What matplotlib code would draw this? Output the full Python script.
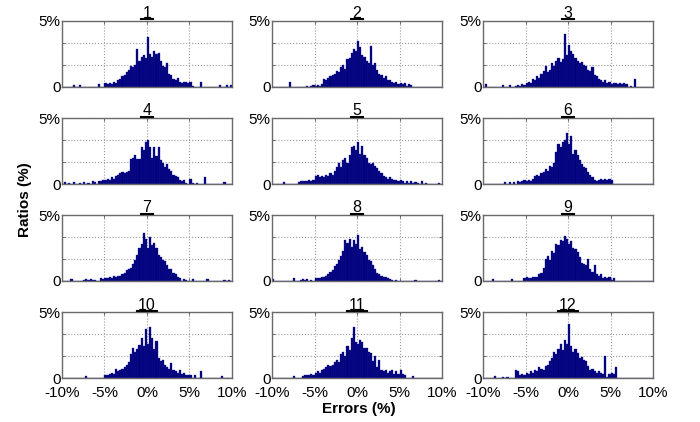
import numpy as np
import matplotlib
matplotlib.use("Agg")
import matplotlib.pyplot as plt
from matplotlib.lines import Line2D

plt.rcParams['font.family'] = ['Liberation Sans', 'DejaVu Sans']

# Histogram bins: -10% .. 10%, width 0.25%
bin_edges = np.linspace(-10, 10, 81)
panel_titles = ['1', '2', '3', '4', '5', '6', '7', '8', '9', '10', '11', '12']
x_tick_values = [-10, -5, 0, 5, 10]
x_tick_labels = ['-10%', '-5%', '0%', '5%', '10%']
y_tick_values = [0, 5 / 3, 10 / 3, 5]
y_tick_labels = ['0', '', '', '5%']

# Ratios (%) per bin
ratios_1 = [0, 0, 0, 0, 0, .15, 0, 0, .15, 0,
            0, 0, 0, 0, 0, 0, 0, .2, 0, 0,
            .3, .2, .3, .2, .4, .3, .5, .6, .8, .9,
            1.1, 1.3, 1.6, 1.5, 1.7, 2.9, 2.0, 2.3, 2.4, 2.2,
            3.8, 2.5, 2.3, 2.7, 2.5, 2.6, 2.0, 1.6, 1.5, 1.8,
            1.0, .9, .6, .5, .7, .4, .3, .4, .4, .3,
            .4, .1, 0, 0, 0, .4, 0, 0, 0, 0,
            0, 0, 0, 0, .15, 0, 0, .15, 0, .15]
ratios_2 = [0, 0, 0, 0, 0, 0, 0, 0, .35, 0,
            0, 0, 0, 0, 0, 0, .1, 0, .1, .15,
            .1, .15, .1, .2, .6, .5, .7, .8, .9, 1.0,
            1.2, 1.1, 1.5, 1.7, 1.4, 2.1, 2.2, 2.6, 2.9, 2.7,
            3.5, 3.0, 2.4, 2.3, 2.0, 1.8, 3.1, 1.7, 1.8, 1.3,
            1.0, .9, .7, .8, .5, .5, .4, .3, .4, .2,
            .3, .2, .3, .1, .2, .15, 0, 0, 0, 0,
            0, 0, 0, 0, 0, 0, 0, 0, 0, 0]
ratios_3 = [0, .2, 0, 0, 0, 0, 0, 0, 0, .15,
            0, 0, .15, 0, 0, .1, .15, .1, .2, .15,
            .3, .4, .3, .6, .5, .8, .7, 1.0, 1.2, 1.6,
            1.1, 1.3, 1.8, 1.6, 2.0, 2.2, 1.9, 2.1, 4.0, 2.4,
            3.2, 2.7, 2.5, 2.2, 2.0, 1.8, 1.9, 1.7, 1.6, 1.3,
            1.2, 1.5, .9, .8, .6, .5, .4, .5, .3, .4,
            .2, .3, .3, .2, .3, .2, .3, .2, 0, .1,
            0, .6, 0, 0, 0, 0, 0, 0, 0, 0]
ratios_4 = [0, .15, 0, .1, 0, .15, 0, 0, .1, 0,
            .15, 0, .1, 0, .2, .15, 0, .2, .25, .3,
            .3, .4, .3, .5, .4, .6, .7, .8, .9, .8,
            .9, 1.0, 1.9, 2.0, 2.2, 1.9, 1.9, 2.8, 2.6, 3.2,
            3.3, 2.8, 2.0, 2.8, 2.1, 2.8, 1.8, 1.6, 1.3, 1.5,
            1.1, 1.0, .7, .6, .5, .3, .2, .3, .1, 0,
            .4, .1, 0, .1, 0, 0, 0, .5, 0, 0,
            0, 0, 0, 0, 0, 0, .15, 0, 0, 0]
ratios_5 = [0, 0, 0, 0, 0, .15, 0, 0, 0, 0,
            0, 0, .15, .2, .25, .2, .25, .3, .2, .3,
            .6, .7, .5, .6, .5, .7, .6, .8, .7, 1.0,
            1.3, 1.6, 1.3, 1.8, 2.0, 1.6, 2.2, 2.8, 2.9, 2.6,
            3.2, 2.3, 2.9, 2.2, 2.0, 1.6, 1.5, 1.6, 1.4, 1.2,
            1.0, .8, .6, .5, .4, .5, .4, .3, .3, .2,
            .3, .2, .1, .2, .1, .2, .1, .15, .1, 0,
            .2, 0, .1, 0, 0, 0, 0, 0, .1, 0]
ratios_6 = [0, 0, 0, 0, 0, 0, 0, 0, 0, 0,
            .15, 0, .15, 0, .15, 0, .2, .15, .25, .3,
            .2, .3, .25, .4, .6, .7, .6, .8, .9, 1.1,
            1.0, 1.4, 1.3, 1.6, 2.4, 3.0, 2.8, 3.2, 3.3, 3.9,
            3.0, 3.6, 2.3, 2.6, 2.2, 1.8, 1.5, 1.3, 1.2, .9,
            .7, .5, .3, .2, .3, .4, .3, .4, .3, .4,
            .3, 0, 0, 0, 0, 0, 0, 0, 0, 0,
            0, 0, 0, 0, 0, 0, 0, 0, 0, 0]
ratios_7 = [0, 0, 0, 0, .15, 0, 0, 0, 0, 0,
            .1, .15, .1, .15, .1, .1, 0, 0, .2, .15,
            .25, .2, .3, .25, .35, .3, .35, .4, .5, .6,
            .8, .9, 1.0, 1.3, 1.6, 2.0, 2.5, 2.8, 3.6, 3.2,
            2.5, 3.3, 2.7, 2.9, 2.5, 2.0, 1.8, 1.6, 1.5, 1.2,
            .9, .9, .6, .5, .3, .2, 0, .15, .1, 0,
            0, .15, 0, 0, 0, 0, 0, 0, .15, 0,
            0, 0, 0, 0, 0, 0, .1, 0, .1, 0]
ratios_8 = [.15, 0, 0, 0, 0, 0, 0, 0, 0, 0,
            .2, 0, 0, .1, .15, .1, .15, 0, .1, 0,
            .2, .25, .2, .3, .3, .4, .5, .7, .8, 1.1,
            1.3, 1.6, 1.9, 2.3, 3.1, 2.9, 3.2, 2.6, 3.1, 2.8,
            3.5, 2.4, 2.6, 2.2, 2.0, 1.6, 1.5, 1.2, .9, .6,
            .5, .4, .3, .3, .2, .15, .1, 0, .1, 0,
            0, 0, 0, 0, 0, 0, 0, .1, 0, 0,
            0, 0, 0, 0, 0, 0, 0, 0, .1, 0]
ratios_9 = [0, 0, 0, 0, .15, 0, 0, 0, 0, 0,
            0, 0, 0, .15, 0, 0, 0, 0, 0, .2,
            .3, .2, .25, .3, .3, .3, .5, .6, 1.0, 1.7,
            1.9, 1.6, 2.3, 2.1, 2.8, 2.7, 3.1, 3.0, 3.4, 3.2,
            2.8, 3.0, 2.5, 2.4, 2.2, 1.8, 1.4, 1.3, 1.2, 1.7,
            .9, .7, 1.2, .5, .4, .5, .2, .3, .2, .3,
            .1, .2, 0, 0, 0, 0, 0, 0, 0, 0,
            0, 0, 0, 0, 0, 0, 0, 0, 0, 0]
ratios_10 = [0, 0, 0, 0, 0, 0, 0, 0, 0, 0,
             0, .15, 0, 0, 0, 0, 0, 0, 0, 0,
             .2, .2, .3, .4, .3, .7, .5, .6, .7, .8,
             1.0, 1.2, 1.8, 2.3, 2.0, 2.2, 2.5, 3.0, 2.4, 3.7,
             2.6, 3.9, 3.0, 2.2, 2.8, 1.5, 1.3, 1.4, 1.0, .8,
             .7, 1.1, .6, .5, .4, .6, .3, .4, .2, .2,
             .2, 0, .2, 0, 0, .5, 0, 0, 0, 0,
             0, 0, 0, 0, 0, .15, 0, 0, 0, 0]
ratios_11 = [0, 0, 0, 0, 0, 0, 0, 0, 0, 0,
             .15, 0, 0, 0, .15, .2, .25, .2, .3, .25,
             .4, .5, .4, .6, .7, .8, 1.0, .9, 1.0, 1.2,
             1.4, 1.2, 1.8, 2.0, 1.7, 2.4, 2.1, 3.0, 3.9, 2.7,
             2.6, 2.9, 2.7, 2.3, 2.3, 2.0, 1.9, 1.3, 1.7, .8,
             1.4, .6, .5, .6, .4, .5, .6, .3, .5, .3,
             .6, .3, .2, 0, 0, 0, .15, 0, 0, 0,
             0, 0, 0, 0, 0, 0, 0, 0, 0, 0]
ratios_12 = [0, 0, 0, 0, 0, .15, 0, 0, 0, .1,
             0, .1, 0, 0, 0, .6, .5, .2, .3, .2,
             .4, .3, .5, .4, .6, .5, .8, .7, .6, .9,
             1.0, 1.3, 1.5, 2.0, 1.8, 2.2, 2.6, 2.1, 2.9, 2.6,
             4.1, 2.4, 2.0, 2.2, 1.9, 1.5, 1.6, 1.4, 1.3, .9,
             .6, .7, .5, .4, .5, .4, .3, 1.7, .1, .3,
             .4, .3, .8, 0, 0, 0, 0, 0, 0, 0,
             0, 0, 0, 0, 0, 0, 0, 0, 0, 0]

all_ratios = [ratios_1, ratios_2, ratios_3, ratios_4, ratios_5, ratios_6,
              ratios_7, ratios_8, ratios_9, ratios_10, ratios_11, ratios_12]

W, H = 700, 422
fig = plt.figure(figsize=(W / 100, H / 100), dpi=100)

col_left_px = [62, 272, 483]
row_top_px = [21, 118, 215, 312]
ax_w_px, ax_h_px = 170, 66

bar_face = '#00007a'
bar_edge = '#1a1a9a'
centers = (bin_edges[:-1] + bin_edges[1:]) / 2
bw = bin_edges[1] - bin_edges[0]

axes = []
for i, vals in enumerate(all_ratios):
    r, c = divmod(i, 3)
    left = col_left_px[c] / W
    bottom = 1 - (row_top_px[r] + ax_h_px) / H
    ax = fig.add_axes([left, bottom, ax_w_px / W, ax_h_px / H])
    ax.bar(centers, vals, width=bw, color=bar_face, edgecolor=bar_edge,
           linewidth=0.25, zorder=2)
    ax.set_xlim(-10, 10)
    ax.set_ylim(0, 5)
    ax.set_xticks(x_tick_values)
    ax.set_yticks(y_tick_values)
    ax.set_yticklabels(y_tick_labels)
    if r == 3:
        ax.set_xticklabels(x_tick_labels)
    else:
        ax.set_xticklabels([])
    ax.grid(True, linestyle=':', color='#9a9a9a', linewidth=0.8, zorder=0)
    ax.set_axisbelow(True)
    ax.tick_params(axis='both', direction='in', length=2.5, width=0.6,
                   color='#555555', labelsize=11, top=True, right=True)
    ax.tick_params(axis='y', pad=1)
    ax.tick_params(axis='x', pad=6)
    for sp in ax.spines.values():
        sp.set_color('#6a6a6a')
        sp.set_linewidth(1.0)
    ax.set_title(panel_titles[i], fontsize=11.5, pad=1.5)
    axes.append(ax)

fig.text(0.036, 0.526, 'Ratios (%)', rotation=90, fontsize=11,
         fontweight='bold', ha='center', va='center')
fig.text(0.513, 0.031, 'Errors (%)', fontsize=11, fontweight='bold',
         ha='center', va='center')

# underline under each panel number
fig.canvas.draw()
renderer = fig.canvas.get_renderer()
inv = fig.transFigure.inverted()
for ax in axes:
    bb = ax.title.get_window_extent(renderer)
    axbb = ax.get_window_extent(renderer)
    y_disp = axbb.y1 + 1.5
    x0, x1 = bb.x0 - 1.5, bb.x1 + 1.5
    (fx0, fy), (fx1, _) = inv.transform([(x0, y_disp), (x1, y_disp)])
    fig.add_artist(Line2D([fx0, fx1], [fy, fy], color='black', linewidth=1.5,
                          transform=fig.transFigure))

fig.savefig('out.png', dpi=100)
